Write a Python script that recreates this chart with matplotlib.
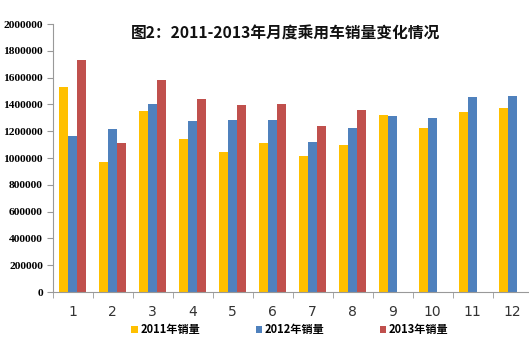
import matplotlib
matplotlib.use("Agg")
import matplotlib.pyplot as plt
import numpy as np
from matplotlib.patches import Patch

plt.rcParams['font.family'] = ['Noto Sans CJK SC', 'DejaVu Sans']

months = ['1', '2', '3', '4', '5', '6', '7', '8', '9', '10', '11', '12']
sales_2011 = [1530000, 970000, 1351000, 1144000, 1047000, 1110000, 1015000, 1097000, 1321000, 1226000, 1343000, 1376000]
sales_2012 = [1164000, 1216000, 1400000, 1276000, 1284000, 1282000, 1119000, 1221000, 1313000, 1299000, 1458000, 1463000]
sales_2013 = [1729000, 1109000, 1585000, 1440000, 1395000, 1400000, 1239000, 1356000, np.nan, np.nan, np.nan, np.nan]
series_names = ['2011年销量', '2012年销量', '2013年销量']
colors = ['#FFC000', '#4F81BD', '#C0504D']
title = '图2：2011-2013年月度乘用车销量变化情况'

fig = plt.figure(figsize=(5.29, 3.41), dpi=100)
ax = fig.add_axes([52.7/529, 49/341, 480/529, 268/341])

x = np.arange(len(months))
w = 0.225
for i, (vals, c) in enumerate(zip([sales_2011, sales_2012, sales_2013], colors)):
    ax.bar(x + (i - 1) * w, vals, width=w, color=c, edgecolor='none')

ax.set_xlim(-0.5, 11.5)
ax.set_ylim(0, 2000000)
ax.set_yticks(np.arange(0, 2000001, 200000))
ax.set_yticklabels([str(v) for v in range(0, 2000001, 200000)],
                   family='Liberation Serif', fontweight='bold', fontsize=8.2)
ax.set_xticks(x)
ax.set_xticklabels(months, fontsize=10, family='DejaVu Sans', color='#333333')
ax.set_xticks(np.arange(-0.5, 12, 1), minor=True)
ax.tick_params(axis='x', which='major', length=0, pad=9)
ax.tick_params(axis='x', which='minor', length=4, color='#999999', direction='out')
ax.tick_params(axis='y', length=4, color='#999999', direction='out', pad=3)

for s in ['top', 'right']:
    ax.spines[s].set_visible(False)
for s in ['left', 'bottom']:
    ax.spines[s].set_color('#999999')
    ax.spines[s].set_linewidth(0.8)

fig.text(0.54, 0.900, title, ha='center', va='center', fontsize=11.3, fontweight='bold',
         color='#111111')

handles = [Patch(facecolor=c, edgecolor='none') for c in colors]
leg = fig.legend(handles, series_names, loc='center', bbox_to_anchor=(0.548, 0.033),
                 ncol=3, frameon=False, fontsize=8, handlelength=0.6, handleheight=0.6,
                 handletextpad=0.2, columnspacing=5.0)
for t in leg.get_texts():
    t.set_fontweight('bold')

fig.savefig('out.png', dpi=100)
